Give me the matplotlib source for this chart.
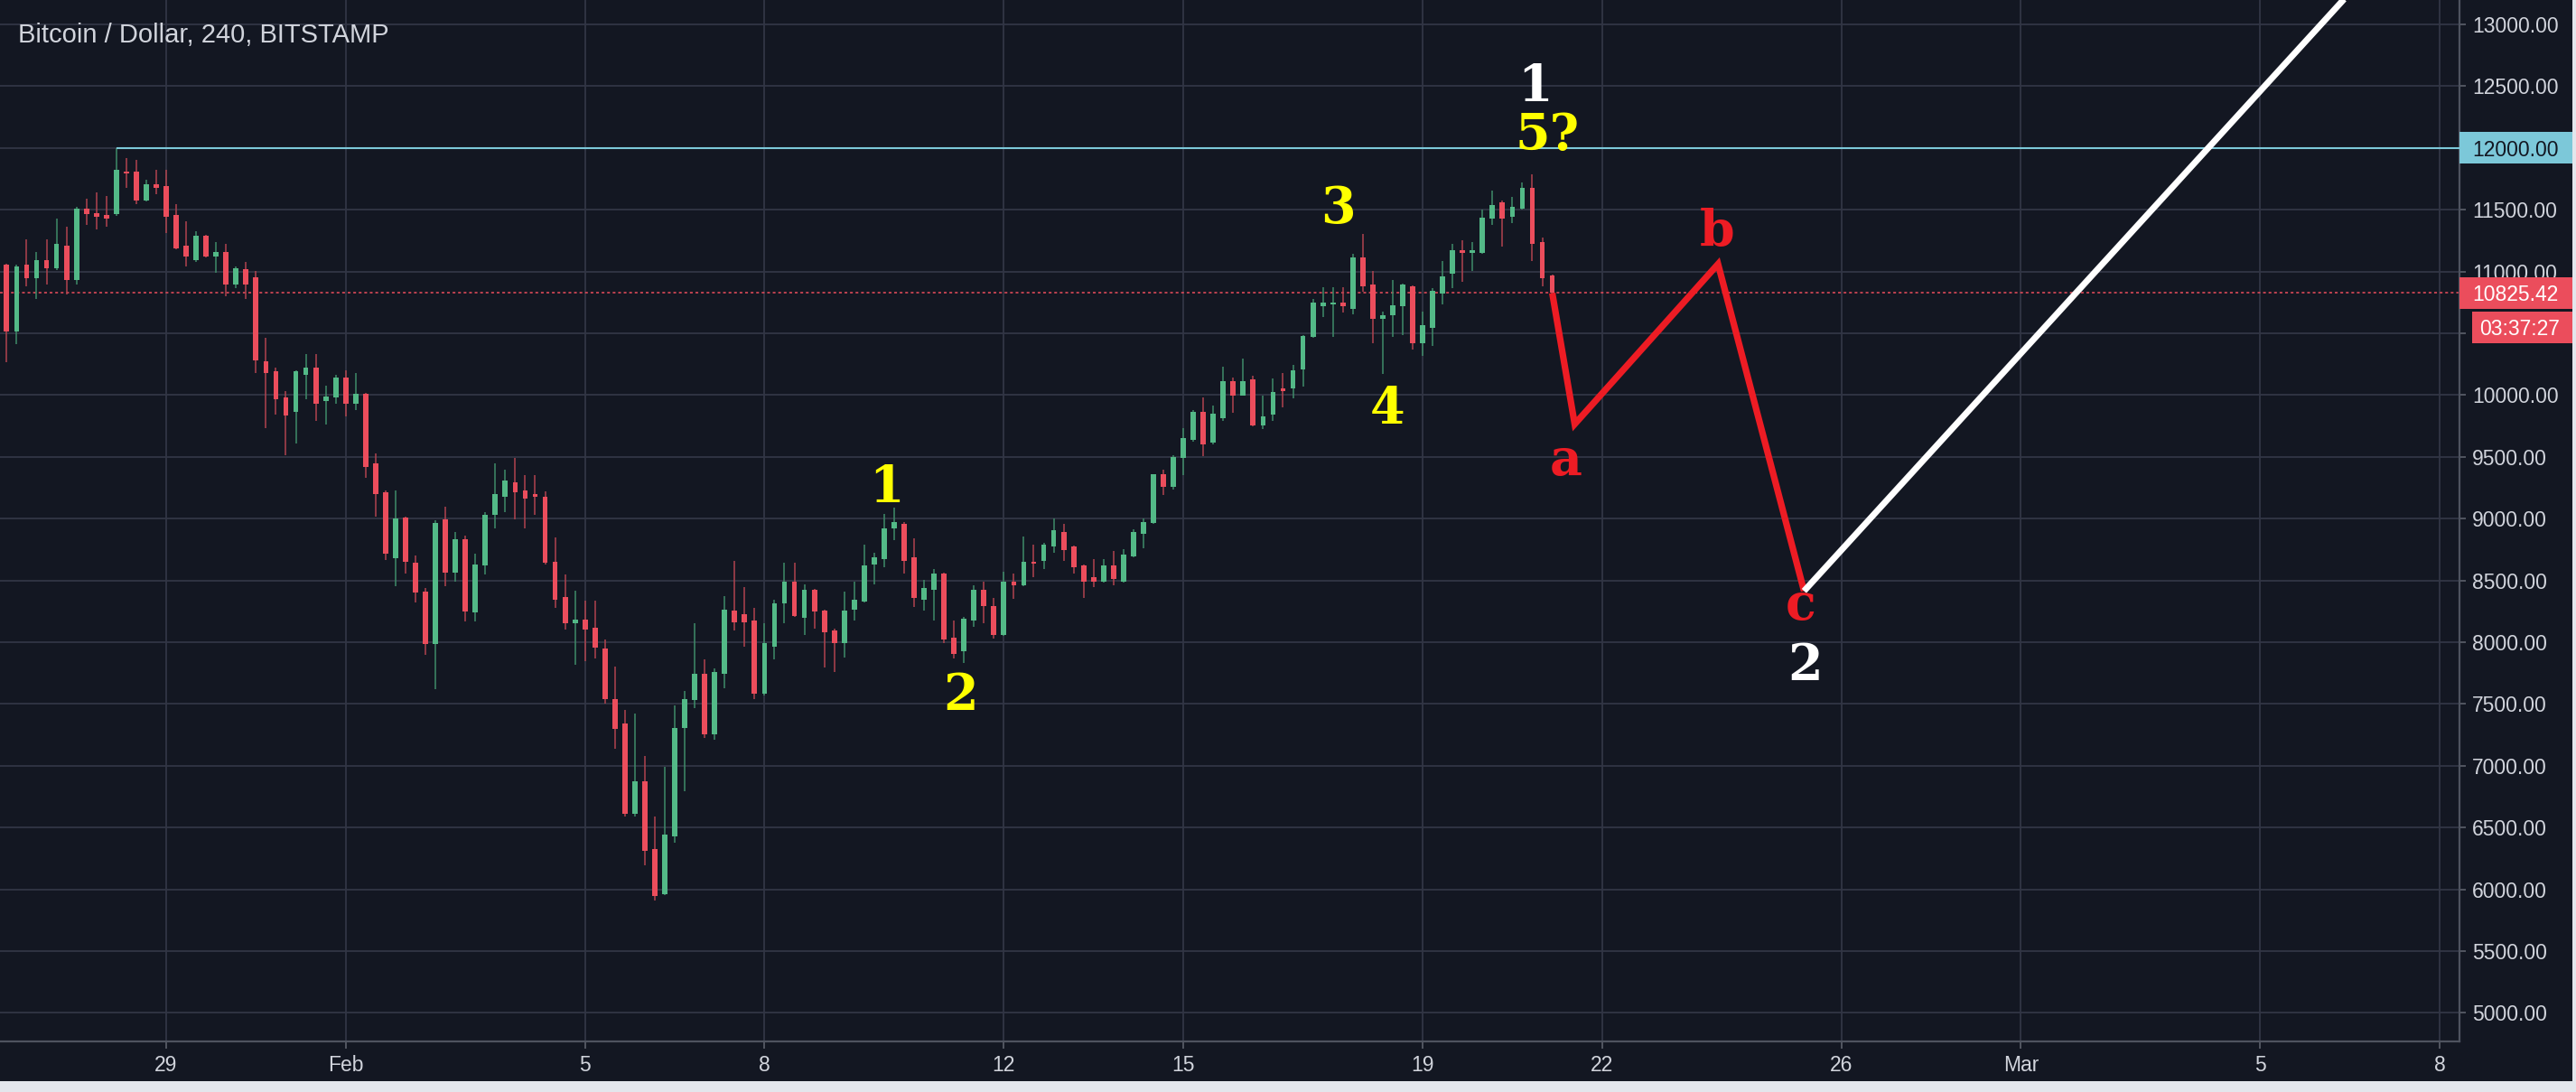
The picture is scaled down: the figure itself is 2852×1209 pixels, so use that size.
import numpy as np
import pandas as pd
import matplotlib
matplotlib.use('Agg')
import matplotlib.pyplot as plt
import matplotlib.dates as mdates
from matplotlib.patches import Rectangle
from matplotlib.transforms import blended_transform_factory

# BTC/USD 4h candles (Bitstamp), first bar 26 Jan 2018 08:00
start_time = '2018-01-26 08:00'

opens = [11052, 10513, 11052, 10944, 11091, 11026, 11206, 10928, 11507, 11474,
         11458, 11461, 11807, 11807, 11575, 11706, 11690, 11458, 11206, 11091,
         11288, 11124, 11157, 10895, 11020, 10954, 10275, 10193, 9980, 9866,
         10160, 10225, 9951, 9980, 10144, 9931, 10010, 9448, 9212, 8683,
         9010, 8644, 8412, 7984, 8993, 8565, 8830, 8239, 8618, 9033,
         9180, 9294, 9229, 9196, 9180, 8647, 8363, 8150, 8183, 8118,
         7948, 7536, 7345, 6612, 6874, 6325, 5963, 6429, 7306, 7529,
         7743, 7254, 7743, 8254, 8228, 8175, 7581, 7961, 8314, 8492,
         8196, 8424, 8254, 8092, 7992, 8262, 8327, 8628, 8675, 8924,
         8955, 8688, 8340, 8424, 8555, 8039, 7927, 8175, 8424, 8293,
         8057, 8489, 8458, 8654, 8660, 8772, 8890, 8772, 8623, 8524,
         8492, 8623, 8492, 8694, 8877, 8963, 9356, 9257, 9488, 9634,
         9865, 9617, 9816, 10113, 9999, 10128, 9756, 9841, 10052, 10052,
         10206, 10468, 10717, 10734, 10746, 10697, 11111, 10892, 10619, 10648,
         10717, 10880, 10417, 10546, 10819, 10979, 11174, 11147, 11147, 11427,
         11561, 11442, 11507, 11673, 11240, 10966]

highs = [11060, 11052, 11261, 11157, 11261, 11425, 11359, 11523, 11592, 11641,
         11608, 12000, 11918, 11902, 11739, 11820, 11820, 11542, 11408, 11327,
         11297, 11239, 11222, 11042, 11075, 11003, 10461, 10225, 10029, 10199,
         10330, 10330, 10078, 10160, 10199, 10176, 10015, 9529, 9229, 9229,
         9015, 8699, 8438, 8990, 9098, 8895, 8863, 8716, 9049, 9448,
         9399, 9490, 9350, 9350, 9219, 8846, 8549, 8418, 8337, 8337,
         8020, 7801, 7455, 7424, 7076, 6591, 6992, 7489, 7607, 8157,
         7861, 7790, 8372, 8660, 8445, 8275, 8157, 8340, 8641, 8641,
         8471, 8430, 8262, 8110, 8406, 8492, 8791, 8725, 9039, 9086,
         8969, 8838, 8505, 8594, 8560, 8175, 8201, 8458, 8489, 8359,
         8571, 8555, 8856, 8791, 8804, 9000, 8955, 8785, 8628, 8673,
         8673, 8738, 8754, 8916, 9000, 9360, 9393, 9512, 9731, 9875,
         9982, 9914, 10230, 10145, 10296, 10157, 9992, 10133, 10181, 10242,
         10485, 10777, 10875, 10875, 10875, 11142, 11305, 11001, 10673, 10928,
         10899, 10887, 10675, 10863, 11081, 11227, 11252, 11240, 11502, 11658,
         11573, 11605, 11719, 11787, 11271, 10976]

lows = [10265, 10412, 10879, 10781, 10895, 11010, 10814, 10895, 11376, 11343,
        11359, 11450, 11673, 11542, 11570, 11624, 11310, 11183, 11042, 11075,
        11114, 10993, 10797, 10863, 10781, 10176, 9729, 9843, 9513, 9611,
        9964, 9794, 9761, 9931, 9827, 9876, 9327, 9016, 8663, 8451,
        8552, 8320, 7899, 7618, 8451, 8493, 8167, 8167, 8549, 8918,
        9049, 8993, 8918, 9033, 8630, 8281, 8101, 7817, 7850, 7866,
        7503, 7137, 6591, 6591, 6194, 5911, 5955, 6377, 6796, 7463,
        7228, 7207, 7626, 8092, 7961, 7542, 7568, 7861, 8157, 8201,
        8057, 8110, 7796, 7756, 7874, 8175, 8319, 8471, 8607, 8825,
        8555, 8288, 8254, 8175, 7992, 7869, 7830, 8123, 8157, 8026,
        8050, 8353, 8450, 8524, 8594, 8725, 8660, 8555, 8359, 8445,
        8485, 8458, 8485, 8690, 8759, 8960, 9191, 9232, 9354, 9622,
        9505, 9600, 9792, 9853, 9995, 9750, 9724, 9792, 9902, 9975,
        10072, 10465, 10631, 10468, 10668, 10656, 10833, 10417, 10169, 10468,
        10485, 10371, 10315, 10400, 10734, 10867, 10916, 11001, 11140, 11378,
        11198, 11393, 11500, 11081, 10882, 10820]

closes = [10513, 11042, 10944, 11091, 11026, 11222, 10928, 11507, 11461, 11441,
          11428, 11820, 11794, 11575, 11706, 11673, 11444, 11190, 11124, 11288,
          11124, 11157, 10895, 11026, 10895, 10281, 10176, 9964, 9833, 10193,
          10225, 9931, 9990, 10144, 9931, 10010, 9415, 9196, 8716, 9000,
          8650, 8405, 7984, 8967, 8565, 8830, 8248, 8631, 9033, 9196,
          9310, 9212, 9163, 9180, 8640, 8346, 8150, 8183, 8101, 7954,
          7536, 7301, 6612, 6874, 6311, 5945, 6442, 7306, 7542, 7743,
          7254, 7756, 8262, 8162, 8162, 7581, 7992, 8314, 8492, 8209,
          8424, 8249, 8078, 7992, 8254, 8340, 8623, 8688, 8921, 8974,
          8660, 8361, 8440, 8558, 8021, 7908, 8188, 8424, 8293, 8057,
          8489, 8458, 8654, 8639, 8791, 8908, 8746, 8607, 8489, 8492,
          8623, 8510, 8707, 8890, 8974, 9356, 9257, 9500, 9651, 9865,
          9602, 9848, 10113, 9999, 10113, 9756, 9828, 10028, 10035, 10198,
          10478, 10746, 10746, 10746, 10717, 11111, 10882, 10614, 10644, 10729,
          10892, 10417, 10563, 10843, 10960, 11174, 11147, 11174, 11439, 11539,
          11427, 11524, 11673, 11227, 10948, 10825.42]

last_price = 10825.42
countdown = '03:37:27'
resistance = 12000
resistance_from = '2018-01-28 04:00'

day_ticks = ['2018-01-29', '2018-02-01', '2018-02-05', '2018-02-08', '2018-02-12', '2018-02-15',
             '2018-02-19', '2018-02-22', '2018-02-26', '2018-03-01', '2018-03-05', '2018-03-08']
day_labels = ['29', 'Feb', '5', '8', '12', '15', '19', '22', '26', 'Mar', '5', '8']
price_ticks = list(range(5000, 13001, 500))

# projected a-b-c correction, then the next leg up
abc_times = ['2018-02-21 04:00', '2018-02-21 13:00', '2018-02-23 22:30', '2018-02-25 09:00']
abc_prices = [10825.42, 9765, 11060, 8414]
up_times = ['2018-02-25 09:00', '2018-03-06 23:00']
up_prices = [8414, 13500]

# wave counts (text baseline)
wave_text = ['1', '2', '3', '4', '5?', '1', 'a', 'b', 'c', '2']
wave_times = ['2018-02-10 01:00', '2018-02-11 06:30', '2018-02-17 14:00', '2018-02-18 10:00',
              '2018-02-21 02:00', '2018-02-20 21:00', '2018-02-21 09:30', '2018-02-23 22:00',
              '2018-02-25 07:30', '2018-02-25 09:30']
wave_prices = [9133, 7449, 11394, 9767, 11982, 12375, 9354, 11200, 8179, 7696]
wave_colors = ['#ffff00', '#ffff00', '#ffff00', '#ffff00', '#ffff00', '#ffffff',
               '#ed1c24', '#ed1c24', '#ed1c24', '#ffffff']

bg = '#131722'
grid_c = '#323645'
text_c = '#d1d4dc'
up_c = '#53b987'
down_c = '#eb4d5c'
cyan = '#7cc8d9'

fig = plt.figure(figsize=(28.52, 12.09), dpi=100, facecolor='#e3e6ec')
fig.patches.append(Rectangle((0, 12 / 1209), 2848 / 2852, 1 - 12 / 1209, transform=fig.transFigure,
                             facecolor=bg, edgecolor='none', zorder=-5))
ax = fig.add_axes([0, 56 / 1209, 2723 / 2852, 1 - 56 / 1209])
ax.set_facecolor(bg)

t = mdates.date2num(pd.date_range(start_time, periods=len(opens), freq='4h'))
o = np.array(opens, dtype=float)
h = np.array(highs, dtype=float)
l = np.array(lows, dtype=float)
c = np.array(closes, dtype=float)
rising = c >= o

ax.vlines(t[rising], l[rising], h[rising], color='#3f8c69', lw=1.1, zorder=3)
ax.vlines(t[~rising], l[~rising], h[~rising], color='#b0434f', lw=1.1, zorder=3)
body_h = np.maximum(np.abs(c - o), 15)
body_b = np.minimum(o, c)
ax.bar(t, body_h, bottom=body_b, width=0.088, color=np.where(rising, up_c, down_c),
       edgecolor='none', zorder=4)

x0 = mdates.date2num(pd.Timestamp('2018-01-29')) - 2.778
x1 = mdates.date2num(pd.Timestamp('2018-01-29')) + 38.33
ax.set_xlim(x0, x1)
ax.set_ylim(4769, 13197)

# resistance and last price lines
ax.hlines(resistance, mdates.date2num(pd.Timestamp(resistance_from)), x1, color=cyan, lw=1.5, zorder=5)
ax.axhline(last_price, color=down_c, lw=1.1, ls=(0, (2, 2)), zorder=2)

ax.plot(mdates.date2num(pd.to_datetime(abc_times)), abc_prices, color='#ed1c24', lw=5.2,
        solid_joinstyle='miter', solid_capstyle='butt', zorder=6)
ax.plot(mdates.date2num(pd.to_datetime(up_times)), up_prices, color='white', lw=5.0,
        solid_capstyle='butt', zorder=6)

for txt, tm, pr, col in zip(wave_text, wave_times, wave_prices, wave_colors):
    ax.text(mdates.date2num(pd.Timestamp(tm)), pr, txt, color=col, fontsize=40,
            family='DejaVu Serif', weight='bold', ha='center', va='baseline', zorder=7)

# axes styling
ax.set_xticks(mdates.date2num(pd.to_datetime(day_ticks)))
ax.set_xticklabels(day_labels)
ax.set_yticks(price_ticks)
# 10500 sits under the countdown box on the price scale
ax.set_yticklabels(['' if p == 10500 else '%.2f' % p for p in price_ticks])
ax.yaxis.tick_right()
ax.grid(True, color=grid_c, lw=1.3)
ax.tick_params(axis='both', colors='#5d616c', labelcolor=text_c, labelsize=16.5, width=1.2)
ax.tick_params(axis='y', length=5, pad=5)
ax.tick_params(axis='x', length=6, pad=5)
for lab in ax.get_xticklabels() + ax.get_yticklabels():
    lab.set_family('Liberation Sans')
for s in ['top', 'left']:
    ax.spines[s].set_visible(False)
for s in ['right', 'bottom']:
    ax.spines[s].set_color('#4e535f')
    ax.spines[s].set_linewidth(1.6)

# price scale labels
px_h = (13197 - 4769) / 1153.0
tr = blended_transform_factory(ax.transAxes, ax.transData)
boxes = [(resistance, 1.0, cyan, '#131722', '%.2f' % resistance, 2737),
         (last_price, 1.0, down_c, 'white', '%.2f' % last_price, 2737),
         (last_price - 38 * px_h, 2737 / 2723, down_c, 'white', countdown, 2745)]
for yc, xl, fc, tc, txt, tx in boxes:
    ax.add_patch(Rectangle((xl, yc - 17.5 * px_h), 2848 / 2723 - xl, 35 * px_h, transform=tr,
                           facecolor=fc, edgecolor='none', clip_on=False, zorder=8))
    ax.text(tx / 2723, yc, txt, transform=tr, color=tc, fontsize=16.5, family='Liberation Sans',
            ha='left', va='center_baseline', clip_on=False, zorder=9)

ax.text(20 / 2723, 1 - 47 / 1153, 'Bitcoin / Dollar, 240, BITSTAMP', transform=ax.transAxes,
        color=text_c, fontsize=21, family='Liberation Sans', ha='left', va='baseline', zorder=9)

fig.savefig('out.png', dpi=100, facecolor=fig.get_facecolor())
